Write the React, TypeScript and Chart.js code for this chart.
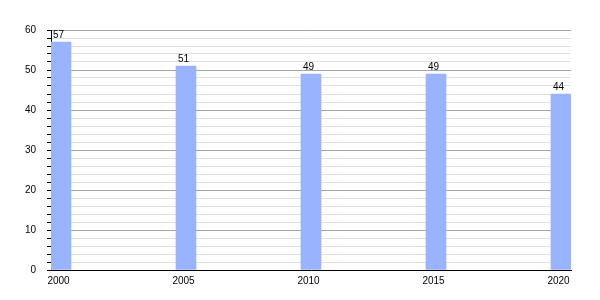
import React, { useEffect, useRef } from "react";
import { Chart, registerables } from "chart.js";

Chart.register(...registerables);

const years = [2000, 2005, 2010, 2015, 2020];
const values = [57, 51, 49, 49, 44];
const barColor = "#99b3ff";

const labelPlugin = {
  id: "barLabels",
  afterDatasetsDraw(chart: any) {
    const ctx = chart.ctx;
    const meta = chart.getDatasetMeta(0);
    ctx.save();
    ctx.font = '10px "Liberation Sans", Arial, sans-serif';
    ctx.fillStyle = "#000";
    ctx.textAlign = "center";
    ctx.textBaseline = "alphabetic";
    meta.data.forEach((bar: any, i: number) => {
      ctx.fillText(String(values[i]), bar.x - 2.5, bar.y - 4.5);
    });
    ctx.restore();
  },
};

export default function App() {
  const ref = useRef<HTMLCanvasElement>(null);
  useEffect(() => {
    if (!ref.current) return;
    const font = { family: '"Liberation Sans", Arial, sans-serif', size: 10 };
    const chart = new Chart(ref.current, {
      type: "bar",
      data: {
        datasets: [
          {
            data: years.map((y, i) => ({ x: y, y: values[i] })),
            backgroundColor: barColor,
            borderWidth: 0,
            barThickness: 20,
          },
        ],
      },
      options: {
        animation: false,
        responsive: false,
        layout: { padding: { top: 30, right: 29, bottom: 0, left: 0 } },
        plugins: { legend: { display: false }, tooltip: { enabled: false } },
        scales: {
          x: {
            type: "linear",
            min: 1999.6,
            max: 2020.4,
            offset: false,
            afterBuildTicks: (scale: any) => {
              scale.ticks = years.map((v) => ({ value: v }));
            },
            afterFit: (scale: any) => {
              scale.height = 30;
            },
            grid: { display: false, drawTicks: false, offset: false },
            border: { display: true, color: "#000", width: 1 },
            ticks: {
              font,
              color: "#000",
              padding: 5,
              labelOffset: -2.5,
              maxRotation: 0,
              autoSkip: false,
              callback: (v: any) => String(v),
            },
          },
          y: {
            min: 0,
            max: 60,
            afterFit: (scale: any) => {
              scale.width = 51;
            },
            grid: {
              color: (c: any) =>
                c.tick && c.tick.value % 10 === 0 ? "#a6a6a6" : "#e0e0e0",
              tickColor: "#000",
              tickLength: 4,
              drawTicks: true,
            },
            border: { display: true, color: "#000", width: 1 },
            ticks: {
              stepSize: 2,
              font,
              color: "#000",
              padding: 11,
              autoSkip: false,
              callback: (v: any) => (Number(v) % 10 === 0 ? String(v) : ""),
            },
          },
        },
      },
      plugins: [labelPlugin],
    } as any);
    return () => chart.destroy();
  }, []);
  return (
    <div style={{ position: "absolute", left: 0, top: 0, width: 600, height: 300, background: "#fff" }}>
      <canvas ref={ref} width={600} height={300} style={{ width: 600, height: 300 }} />
    </div>
  );
}
